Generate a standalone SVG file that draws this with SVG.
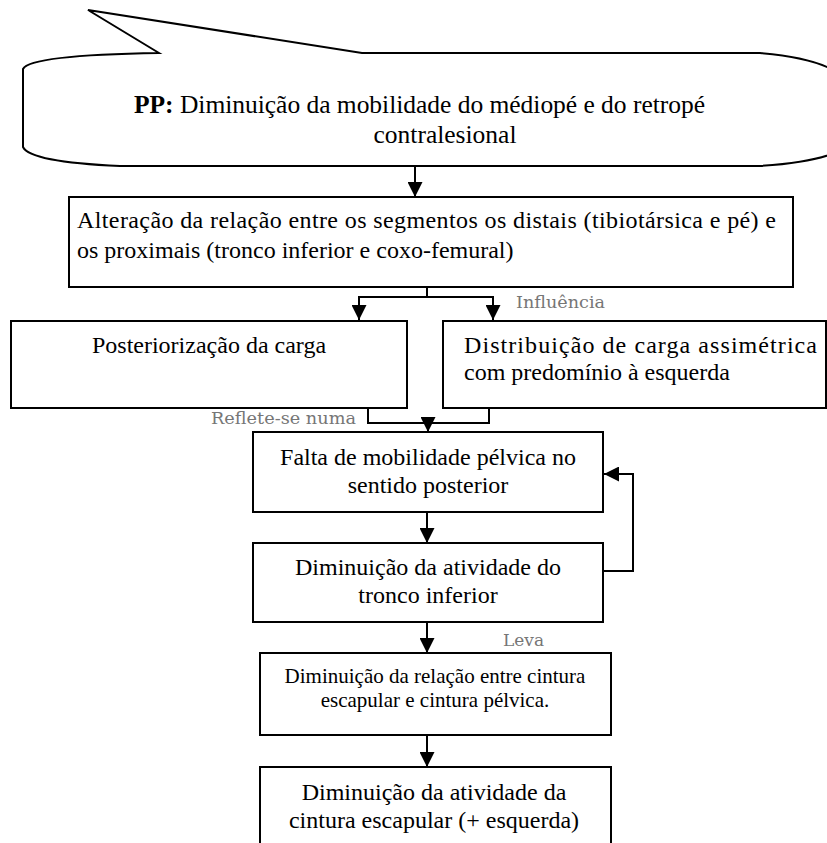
<svg xmlns="http://www.w3.org/2000/svg" width="827" height="843" viewBox="0 0 827 843">
<style>
.box{fill:#fff;stroke:#000;stroke-width:2}
.ln{fill:none;stroke:#000;stroke-width:2}
.txt{font-family:'Liberation Serif',serif;font-size:24px;fill:#000}
.big{font-family:'Liberation Serif',serif;font-size:25.5px;fill:#000}
.sm{font-family:'Liberation Serif',serif;font-size:21px;fill:#000}
.gr{font-family:'DejaVu Serif',serif;font-size:17px;fill:#767676}
</style>
<defs>
<marker id="ah" viewBox="0 0 10 10" refX="10" refY="5" markerWidth="15" markerHeight="15" markerUnits="userSpaceOnUse" orient="auto">
<path d="M0,0 L10,5 L0,10 z" fill="#000"/>
</marker>
</defs>

<g id="pp">
<path class="box" d="M159,53 L88,10 L362,53 L760,53 Q820,58 840,75 L840,150 Q820,162 760,166 L120,166 Q30,162 23,147 L23,69 Q30,55 159,53 Z"/>
<text class="big" x="134" y="113" textLength="571" lengthAdjust="spacing"><tspan font-weight="bold">PP:</tspan> Diminuição da mobilidade do médiopé e do retropé</text>
<text class="big" x="445" y="143" text-anchor="middle">contralesional</text>
</g>

<g id="alteracao">
<rect class="box" x="69" y="197" width="724" height="90"/>
<text class="txt" x="77" y="228" textLength="699" lengthAdjust="spacing">Alteração da relação entre os segmentos os distais (tibiotársica e pé) e</text>
<text class="txt" x="77" y="258">os proximais (tronco inferior e coxo-femural)</text>
</g>

<g id="posteriorizacao">
<rect class="box" x="11" y="321" width="396" height="87"/>
<text class="txt" x="209" y="353" text-anchor="middle">Posteriorização da carga</text>
</g>

<g id="distribuicao">
<rect class="box" x="443" y="321" width="383" height="87"/>
<text class="txt" x="464" y="353" textLength="353" lengthAdjust="spacing">Distribuição de carga assimétrica</text>
<text class="txt" x="464" y="380">com predomínio à esquerda</text>
</g>

<g id="falta">
<rect class="box" x="253" y="432" width="350" height="80"/>
<text class="txt" x="428" y="465" text-anchor="middle">Falta de mobilidade pélvica no</text>
<text class="txt" x="428" y="493" text-anchor="middle">sentido posterior</text>
</g>

<g id="tronco">
<rect class="box" x="253" y="543" width="350" height="79"/>
<text class="txt" x="428" y="575" text-anchor="middle">Diminuição da atividade do</text>
<text class="txt" x="428" y="603" text-anchor="middle">tronco inferior</text>
</g>

<g id="relacao">
<rect class="box" x="260" y="653" width="351" height="82"/>
<text class="sm" x="435" y="683" text-anchor="middle">Diminuição da relação entre cintura</text>
<text class="sm" x="435" y="707" text-anchor="middle">escapular e cintura pélvica.</text>
</g>

<g id="cintura">
<rect class="box" x="260" y="767" width="351" height="90"/>
<text class="txt" x="434" y="800" text-anchor="middle">Diminuição da atividade da</text>
<text class="txt" x="434" y="828" text-anchor="middle">cintura escapular (+ esquerda)</text>
</g>

<g id="connectors">
<line class="ln" x1="415" y1="166" x2="415" y2="197" marker-end="url(#ah)"/>
<path class="ln" d="M427,287 L427,297"/>
<path class="ln" d="M427,297 L359,297 L359,320" marker-end="url(#ah)"/>
<path class="ln" d="M427,297 L493,297 L493,320" marker-end="url(#ah)"/>
<path class="ln" d="M368,408 L368,423 L489,423 L489,408"/>
<line class="ln" x1="428" y1="423" x2="428" y2="432" marker-end="url(#ah)"/>
<line class="ln" x1="427" y1="512" x2="427" y2="543" marker-end="url(#ah)"/>
<path class="ln" d="M603,571 L633,571 L633,474 L604,474" marker-end="url(#ah)"/>
<line class="ln" x1="427" y1="622" x2="427" y2="653" marker-end="url(#ah)"/>
<line class="ln" x1="427" y1="735" x2="427" y2="767" marker-end="url(#ah)"/>
<text class="gr" x="516" y="308" textLength="89" lengthAdjust="spacingAndGlyphs">Influência</text>
<text class="gr" x="211" y="424" textLength="145" lengthAdjust="spacingAndGlyphs">Reflete-se numa</text>
<text class="gr" x="503" y="646" textLength="41" lengthAdjust="spacingAndGlyphs">Leva</text>
</g>
</svg>
